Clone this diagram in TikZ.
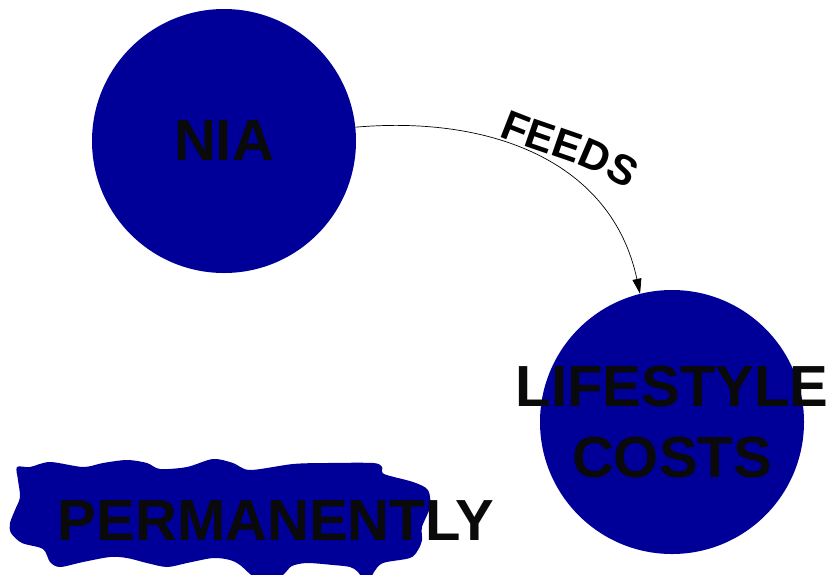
\documentclass[tikz,border=0pt]{standalone}
\usepackage{fontspec}
\setmainfont{Liberation Sans}
\newfontfamily\feedfont[UprightFont={* Bold}]{Liberation Sans}
\usetikzlibrary{arrows.meta,decorations.text}
\definecolor{blobblue}{RGB}{0,0,153}

\tikzset{
  bubble/.style={circle, fill=blobblue, minimum size=264pt, inner sep=0pt},
  bigword/.style={font=\bfseries\fontsize{58}{71}\selectfont, text=black!96, align=center, inner sep=0pt},
  feedlink/.style={-{Triangle[length=15pt,width=9pt]}, line width=0.7pt}
}

\begin{document}
\begin{tikzpicture}[x=1pt,y=-1pt]

      % Frame
      \useasboundingbox (0,0) rectangle (835,574);

      % Wavy patch behind the word
      \fill[blobblue] plot[smooth cycle, tension=0.5] coordinates {
          (17,467) (30,467) (50,462) (83,467) (103,463) (127,460) (147,463)
          (160,469) (187,467) (213,459) (233,463) (250,470) (293,464)
          (327,463) (373,463) (382,467) (384,474) (413,482) (428,490)
          (430,507) (422,527) (422,540) (418,550) (410,558) (383,563)
          (374,572) (367,584) (358,572) (350,567) (333,565) (307,563)
          (292,566) (284,574) (267,588) (250,574) (240,565) (230,560)
          (213,558) (187,563) (167,567) (147,563) (127,558) (110,557)
          (83,562) (60,567) (50,562) (43,549) (22,543) (11,533) (10,523)
          (15,510) (20,497) (18,480)};

      % Bubbles
      \node[bubble] (nia) at (224,141) {};
      \node[bubble] (costs) at (672,422) {};

      % Words
      \node[bigword] (niatext) at (nia.center) {NIA};
      \node[bigword] (coststext) at (costs.center) {LIFESTYLE\\COSTS};
      \node[bigword] (perm) at (276,521) {PERMANENTLY};

      % Link
      \draw[feedlink] (nia.6) to[out=5, in=102, looseness=1.05] (costs.104);

      % Label bent along the link
      \coordinate (feedsstart) at (499,136);
      \coordinate (feedsend) at (636,195);
      \path[decorate, decoration={text along path,
              text={|\feedfont\fontsize{42}{42}\selectfont|FEEDS},
              text align=left}]
          (feedsstart) to[out=-23, in=145] (feedsend);

\end{tikzpicture}
\end{document}
